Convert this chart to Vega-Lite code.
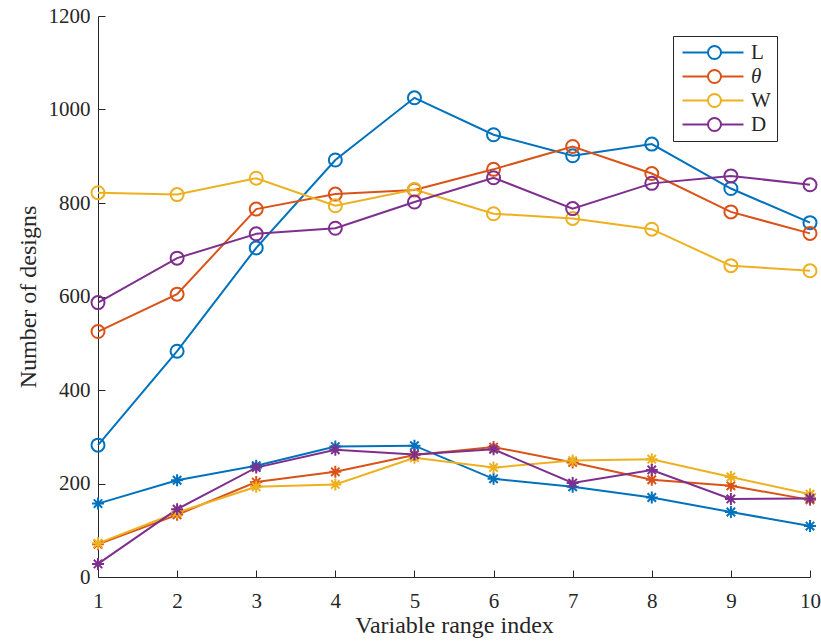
{
  "$schema": "https://vega.github.io/schema/vega-lite/v6.json",
  "width": 712,
  "height": 561,
  "autosize": {"type": "none"},
  "padding": {"left": 98, "top": 16, "right": 11, "bottom": 65},
  "background": "white",
  "config": {
    "view": {"stroke": null},
    "font": "Liberation Serif",
    "axis": {"domainColor": "#262626", "tickColor": "#262626", "labelColor": "#262626", "titleColor": "#262626", "labelFont": "Liberation Serif", "titleFont": "Liberation Serif", "labelFontSize": 21, "titleFontSize": 24, "titleFontWeight": "normal", "grid": false, "tickSize": -7, "domainWidth": 1, "tickWidth": 1}
  },
  "data": {"values": [
    {"x":1,"var":"L","kind":"o","value":282},{"x":2,"var":"L","kind":"o","value":483},{"x":3,"var":"L","kind":"o","value":704},{"x":4,"var":"L","kind":"o","value":892},{"x":5,"var":"L","kind":"o","value":1025},{"x":6,"var":"L","kind":"o","value":946},{"x":7,"var":"L","kind":"o","value":901},{"x":8,"var":"L","kind":"o","value":926},{"x":9,"var":"L","kind":"o","value":831},{"x":10,"var":"L","kind":"o","value":758},
    {"x":1,"var":"θ","kind":"o","value":525},{"x":2,"var":"θ","kind":"o","value":605},{"x":3,"var":"θ","kind":"o","value":787},{"x":4,"var":"θ","kind":"o","value":819},{"x":5,"var":"θ","kind":"o","value":828},{"x":6,"var":"θ","kind":"o","value":872},{"x":7,"var":"θ","kind":"o","value":921},{"x":8,"var":"θ","kind":"o","value":863},{"x":9,"var":"θ","kind":"o","value":781},{"x":10,"var":"θ","kind":"o","value":735},
    {"x":1,"var":"W","kind":"o","value":822},{"x":2,"var":"W","kind":"o","value":818},{"x":3,"var":"W","kind":"o","value":853},{"x":4,"var":"W","kind":"o","value":794},{"x":5,"var":"W","kind":"o","value":829},{"x":6,"var":"W","kind":"o","value":777},{"x":7,"var":"W","kind":"o","value":767},{"x":8,"var":"W","kind":"o","value":744},{"x":9,"var":"W","kind":"o","value":666},{"x":10,"var":"W","kind":"o","value":655},
    {"x":1,"var":"D","kind":"o","value":587},{"x":2,"var":"D","kind":"o","value":682},{"x":3,"var":"D","kind":"o","value":734},{"x":4,"var":"D","kind":"o","value":746},{"x":5,"var":"D","kind":"o","value":802},{"x":6,"var":"D","kind":"o","value":854},{"x":7,"var":"D","kind":"o","value":788},{"x":8,"var":"D","kind":"o","value":842},{"x":9,"var":"D","kind":"o","value":858},{"x":10,"var":"D","kind":"o","value":839},
    {"x":1,"var":"L","kind":"*","value":157},{"x":2,"var":"L","kind":"*","value":207},{"x":3,"var":"L","kind":"*","value":238},{"x":4,"var":"L","kind":"*","value":279},{"x":5,"var":"L","kind":"*","value":281},{"x":6,"var":"L","kind":"*","value":210},{"x":7,"var":"L","kind":"*","value":193},{"x":8,"var":"L","kind":"*","value":170},{"x":9,"var":"L","kind":"*","value":139},{"x":10,"var":"L","kind":"*","value":109},
    {"x":1,"var":"θ","kind":"*","value":70},{"x":2,"var":"θ","kind":"*","value":133},{"x":3,"var":"θ","kind":"*","value":203},{"x":4,"var":"θ","kind":"*","value":225},{"x":5,"var":"θ","kind":"*","value":261},{"x":6,"var":"θ","kind":"*","value":278},{"x":7,"var":"θ","kind":"*","value":245},{"x":8,"var":"θ","kind":"*","value":208},{"x":9,"var":"θ","kind":"*","value":195},{"x":10,"var":"θ","kind":"*","value":165},
    {"x":1,"var":"W","kind":"*","value":72},{"x":2,"var":"W","kind":"*","value":138},{"x":3,"var":"W","kind":"*","value":193},{"x":4,"var":"W","kind":"*","value":198},{"x":5,"var":"W","kind":"*","value":255},{"x":6,"var":"W","kind":"*","value":234},{"x":7,"var":"W","kind":"*","value":249},{"x":8,"var":"W","kind":"*","value":252},{"x":9,"var":"W","kind":"*","value":214},{"x":10,"var":"W","kind":"*","value":177},
    {"x":1,"var":"D","kind":"*","value":28},{"x":2,"var":"D","kind":"*","value":145},{"x":3,"var":"D","kind":"*","value":234},{"x":4,"var":"D","kind":"*","value":272},{"x":5,"var":"D","kind":"*","value":262},{"x":6,"var":"D","kind":"*","value":273},{"x":7,"var":"D","kind":"*","value":201},{"x":8,"var":"D","kind":"*","value":229},{"x":9,"var":"D","kind":"*","value":167},{"x":10,"var":"D","kind":"*","value":168}
  ]},
  "encoding": {
    "x": {"field": "x", "type": "quantitative", "scale": {"domain": [1, 10], "nice": false, "zero": false}, "axis": {"values": [1,2,3,4,5,6,7,8,9,10], "format": "d", "title": "Variable range index", "titleFont": "Liberation Serif", "labelPadding": 20, "titlePadding": 2, "labelFlush": false}},
    "y": {"field": "value", "type": "quantitative", "scale": {"domain": [0, 1200], "nice": false}, "axis": {"values": [0,200,400,600,800,1000,1200], "format": "d", "title": "Number of designs", "titleFont": "Liberation Serif", "labelPadding": 15, "titlePadding": 8, "labelFlush": false}},
    "color": {"field": "var", "type": "nominal", "sort": ["L","θ","W","D"], "scale": {"domain": ["L","θ","W","D"], "range": ["#0072BD","#D95319","#EDB120","#7E2F8E"]},
      "legend": {"title": null, "orient": "none", "legendX": 575, "legendY": 20, "symbolType": "M-0.875,0L2.3125,0M3.9375,0L6.75,0M2.3125,0A0.8125,0.8125 0 1,1 3.9375,0A0.8125,0.8125 0 1,1 2.3125,0", "symbolSize": 256, "symbolStrokeWidth": 2, "symbolFillColor": "transparent", "labelFont": "Liberation Serif", "labelFontSize": 21, "labelColor": "#262626", "labelOffset": 51, "rowPadding": 2, "strokeColor": "#262626", "fillColor": "white", "padding": 6,
        "encode": {"labels": {"update": {"fontStyle": {"signal": "datum.value === 'θ' ? 'italic' : 'normal'"}}}, "symbols": {"update": {"fill": {"value": "transparent"}, "strokeWidth": {"value": 2}}}}}}
  },
  "layer": [
    {"mark": {"type": "line", "strokeWidth": 2}, "encoding": {"detail": {"field": "kind", "type": "nominal"}}},
    {"mark": {"type": "point", "filled": false, "strokeWidth": 2, "opacity": 1},
     "encoding": {"shape": {"field": "kind", "type": "nominal", "legend": null, "scale": {"domain": ["o", "*"], "range": ["circle", "M0,-1L0,1M-1,0L1,0M-0.7,-0.7L0.7,0.7M-0.7,0.7L0.7,-0.7"]}},
                  "size": {"field": "kind", "type": "nominal", "legend": null, "scale": {"domain": ["o", "*"], "range": [169, 144]}}}}
  ]
}
